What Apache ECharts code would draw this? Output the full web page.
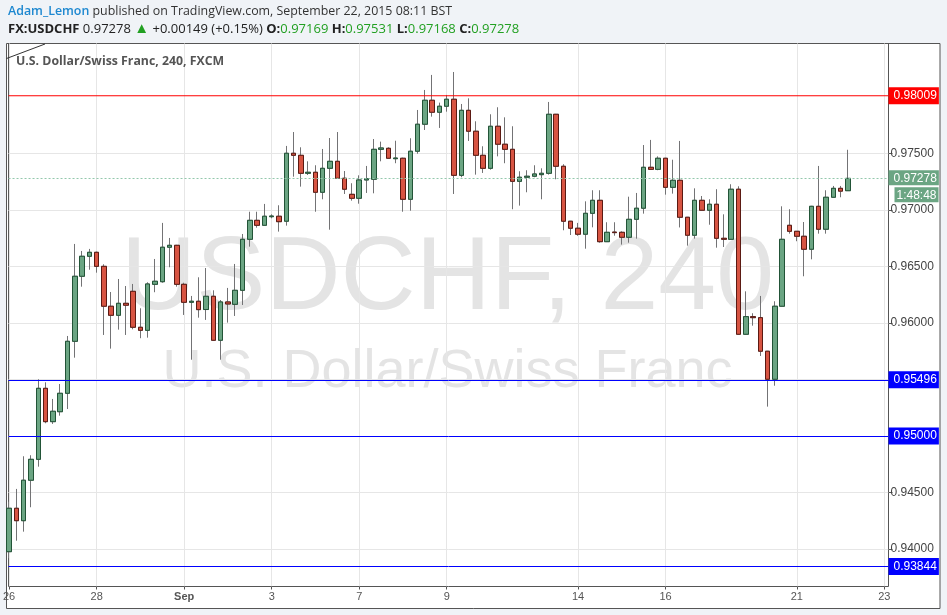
<!DOCTYPE html>
<html><head><meta charset="utf-8">
<script src="https://cdn.jsdelivr.net/npm/echarts@6/dist/echarts.min.js"></script>
<style>html,body{margin:0;padding:0;background:#f0f3f7}#c{width:947px;height:615px}</style>
</head><body><div id="c"></div>
<script>
// ---- data (4H candles, USDCHF) ----
const openP = [0.93976,0.94360,0.94250,0.94608,0.94793,0.95421,0.95126,0.95214,0.95377,0.95837,
0.96412,0.96589,0.96624,0.96500,0.96147,0.96067,0.96173,0.96279,0.95961,0.95934,
0.96341,0.96364,0.96669,0.96686,0.96341,0.96182,0.96191,0.96118,0.96235,0.95846,
0.96185,0.96164,0.96288,0.96739,0.96907,0.96863,0.96939,0.96943,0.96899,0.97500,
0.97482,0.97323,0.97332,0.97155,0.97367,0.97429,0.97279,0.97137,0.97102,0.97264,
0.97270,0.97535,0.97544,0.97452,0.97456,0.97093,0.97518,0.97757,0.97969,0.97863,
0.97916,0.97978,0.97305,0.97880,0.97695,0.97482,0.97367,0.97739,0.97580,0.97535,
0.97252,0.97288,0.97297,0.97311,0.97323,0.97845,0.97385,0.96899,0.96837,0.96784,
0.96969,0.97084,0.96718,0.96803,0.96801,0.96757,0.96916,0.97014,0.97376,0.97358,
0.97456,0.97199,0.97261,0.96934,0.96775,0.97084,0.96996,0.97049,0.96748,0.96739,
0.97182,0.95899,0.96055,0.96046,0.95749,0.95501,0.96147,0.96863,0.96810,0.96766,
0.96651,0.97031,0.96828,0.97111,0.97190,0.97169];
const closeP = [0.94360,0.94250,0.94608,0.94793,0.95421,0.95126,0.95218,0.95377,0.95837,0.96412,
0.96589,0.96624,0.96500,0.96147,0.96067,0.96173,0.96156,0.95961,0.95934,0.96344,
0.96368,0.96669,0.96686,0.96341,0.96182,0.96191,0.96117,0.96235,0.95846,0.96185,
0.96167,0.96288,0.96739,0.96907,0.96863,0.96943,0.96945,0.96895,0.97500,0.97482,
0.97323,0.97332,0.97155,0.97367,0.97429,0.97279,0.97182,0.97102,0.97264,0.97275,
0.97535,0.97547,0.97456,0.97458,0.97093,0.97518,0.97757,0.97969,0.97863,0.97916,
0.97978,0.97305,0.97880,0.97695,0.97482,0.97367,0.97739,0.97580,0.97535,0.97252,
0.97288,0.97297,0.97317,0.97323,0.97845,0.97385,0.96899,0.96837,0.96784,0.96969,
0.97084,0.96718,0.96801,0.96798,0.96757,0.96916,0.97014,0.97376,0.97358,0.97456,
0.97199,0.97261,0.96934,0.96775,0.97084,0.96996,0.97049,0.96748,0.96739,0.97182,
0.95899,0.96055,0.96046,0.95749,0.95501,0.96147,0.96739,0.96810,0.96766,0.96651,
0.97031,0.96828,0.97111,0.97190,0.97165,0.97278];
const lowP = [0.93918,0.94073,0.94153,0.94369,0.94728,0.95112,0.95106,0.95179,0.95238,0.95692,
0.96320,0.96470,0.96444,0.95893,0.95772,0.95940,0.95893,0.95943,0.95864,0.95869,
0.96271,0.96355,0.96492,0.96320,0.96070,0.95674,0.96046,0.96026,0.95840,0.95674,
0.96002,0.96061,0.96158,0.96674,0.96842,0.96860,0.96925,0.96807,0.96860,0.97293,
0.97205,0.97308,0.96983,0.97093,0.96824,0.97275,0.97140,0.97081,0.97054,0.97149,
0.97146,0.97429,0.97453,0.97412,0.96983,0.96992,0.97496,0.97706,0.97824,0.97724,
0.97868,0.97140,0.97288,0.97609,0.97311,0.97326,0.97355,0.97473,0.97412,0.97005,
0.97037,0.97155,0.97288,0.97093,0.97311,0.97270,0.96819,0.96777,0.96770,0.96656,
0.96845,0.96709,0.96715,0.96771,0.96692,0.96709,0.96745,0.96966,0.97355,0.97350,
0.97134,0.97143,0.96844,0.96683,0.96745,0.96993,0.96868,0.96665,0.96671,0.96736,
0.95895,0.95895,0.95975,0.95707,0.95259,0.95444,0.96144,0.96789,0.96722,0.96412,
0.96562,0.96789,0.96789,0.97108,0.97111,0.97168];
const highP = [0.94418,0.94531,0.94820,0.94829,0.95501,0.95474,0.95327,0.95459,0.95884,0.96698,
0.96636,0.96654,0.96630,0.96518,0.96273,0.96388,0.96326,0.96344,0.96129,0.96359,
0.96565,0.96884,0.96751,0.96690,0.96355,0.96238,0.96403,0.96485,0.96288,0.96202,
0.96309,0.96521,0.96786,0.96983,0.96983,0.97052,0.96960,0.97040,0.97565,0.97688,
0.97553,0.97429,0.97394,0.97538,0.97635,0.97688,0.97343,0.97235,0.97305,0.97388,
0.97626,0.97603,0.97553,0.97611,0.97461,0.97633,0.97883,0.98060,0.98193,0.97948,
0.98016,0.98219,0.97936,0.97986,0.97783,0.97562,0.97845,0.97907,0.97818,0.97739,
0.97341,0.97350,0.97394,0.97367,0.97954,0.97848,0.97403,0.96902,0.96884,0.97075,
0.97173,0.97173,0.96890,0.96890,0.96810,0.97116,0.97149,0.97573,0.97618,0.97473,
0.97460,0.97443,0.97609,0.96937,0.97190,0.97122,0.97093,0.97182,0.96960,0.97226,
0.97208,0.96279,0.96085,0.96238,0.95752,0.96191,0.97031,0.97005,0.96812,0.96892,
0.97035,0.97388,0.97173,0.97211,0.97211,0.97531];

// x-axis day labels (candle slot index -> label), 6 slots per trading day
const tickIdx  = [0,12,24,36,48,60,78,90,108,120];
const tickText = ['26','28','Sep','3','7','9','14','16','21','23'];
// slot range shown on the time axis
const xMin = -0.08, xMax = 120.57;
// price axis labels / grid levels (0.98000 sits under the red level box)
const priceTicks = [0.940,0.945,0.950,0.955,0.960,0.965,0.970,0.975];
// horizontal levels
const resistanceLevels = [0.98009];
const supportLevels = [0.95496,0.95000,0.93844];
const lastPrice = 0.97278;
const countdown = '1:48:48';

const FONT = 'Liberation Sans';
const UIFONT = 'Open Sans';

const wickData = openP.map((o,i)=>[i,o,closeP[i],lowP[i],highP[i]]);
const bodyData = openP.map((o,i)=>[i,o,closeP[i],Math.min(o,closeP[i]),Math.max(o,closeP[i])]);

function levelMarkLine(vals, color, lineColor){
  return {symbol:['none','none'],silent:true,animation:false,precision:5,
    lineStyle:{color:lineColor,width:1,type:'solid'},
    emphasis:{disabled:true},
    label:{show:true,position:'end',distance:0,color:'#fff',backgroundColor:color,opacity:1,
      padding:[2,2,1,5],fontSize:12,fontFamily:FONT,lineHeight:14,
      formatter:function(p){return Number(p.value).toFixed(5);}},
    data:vals.map(v=>({yAxis:v}))};
}

const chart = echarts.init(document.getElementById('c'));
chart.setOption({
  backgroundColor:'#f0f3f7',
  animation:false,
  grid:{left:6.5,top:43.5,right:58.5,bottom:28.5,show:true,borderColor:'#555',borderWidth:1,backgroundColor:'transparent'},
  xAxis:{
    type:'value',min:xMin,max:xMax,
    axisLine:{show:false,onZero:false},
    axisTick:{show:true,length:3,customValues:tickIdx,lineStyle:{color:'#555'}},
    axisLabel:{customValues:tickIdx,color:'#555',fontSize:11,fontFamily:FONT,margin:5,
      formatter:function(v){const k=tickIdx.indexOf(Math.round(v));const t=tickText[k]||'';return t==='Sep'?'{b|Sep}':t;},
      rich:{b:{fontWeight:'bold',color:'#555',fontSize:11,fontFamily:FONT}}},
    splitLine:{show:true,lineStyle:{color:'#e6e6e6',width:1}}
  },
  yAxis:{
    type:'value',position:'right',min:0.93668,max:0.98471,splitNumber:10,
    axisLine:{show:false,onZero:false},
    axisTick:{show:true,length:4,customValues:priceTicks,lineStyle:{color:'#555'}},
    axisLabel:{customValues:priceTicks,color:'#444',fontSize:12,fontFamily:FONT,margin:2,
      formatter:function(v){return v.toFixed(5);}},
    splitLine:{show:true,lineStyle:{color:'#e6e6e6',width:1}}
  },
  graphic:[
    {type:'rect',z:-10,shape:{x:6.5,y:43.5,width:933.5,height:565},style:{fill:'#ffffff',stroke:'#555',lineWidth:1}},
    {type:'text',z:-5,x:447.5,y:280,style:{text:'USDCHF, 240',font:'104px "'+FONT+'"',fill:'#e4e4e4',align:'center',verticalAlign:'middle'}},
    {type:'text',z:-5,x:447.5,y:372,style:{text:'U.S. Dollar/Swiss Franc',font:'54px "'+FONT+'"',fill:'#e4e4e4',align:'center',verticalAlign:'middle'}},
    {type:'text',z:10,x:16,y:61,style:{text:'U.S. Dollar/Swiss Franc, 240, FXCM',font:'bold 12.3px "'+UIFONT+'"',fill:'#555',verticalAlign:'middle'}},
    {type:'line',z:10,shape:{x1:6.5,y1:58.5,x2:45,y2:44},style:{stroke:'#333',lineWidth:1}},
    {type:'text',z:10,x:8,y:11,style:{
      text:'{u|Adam_Lemon}{t| published on TradingView.com, September 22, 2015 08:11 BST}',
      verticalAlign:'middle',
      rich:{u:{fill:'#1e88d0',font:'600 12.4px "'+UIFONT+'"'},t:{fill:'#333',font:'12.4px "'+UIFONT+'"'}}}},
    {type:'text',z:10,x:8,y:29,style:{
      text:'{b|FX:USDCHF}{t| 0.97278 }{g|▲}{t| +0.00149 (+0.15%) }{b|O:}{v|0.97169}{b| H:}{v|0.97531}{b| L:}{v|0.97168}{b| C:}{v|0.97278}',
      verticalAlign:'middle',
      rich:{b:{fill:'#222',font:'bold 13px "'+UIFONT+'"'},t:{fill:'#222',font:'13px "'+UIFONT+'"'},
            g:{fill:'#22a022',font:'15px "'+UIFONT+'"'},v:{fill:'#22a022',font:'13px "'+UIFONT+'"'}}}}
  ],
  series:[
    {type:'candlestick',name:'wick',data:wickData,encode:{x:0,y:[1,2,3,4]},barWidth:5,silent:true,z:3,
      itemStyle:{color:'transparent',color0:'transparent',borderColor:'#737375',borderColor0:'#737375',borderWidth:1}},
    {type:'candlestick',name:'body',data:bodyData,encode:{x:0,y:[1,2,3,4]},barWidth:5,silent:true,z:4,
      itemStyle:{color:'#6ba583',color0:'#d75442',borderColor:'#225437',borderColor0:'#5b1a13',borderWidth:1}},
    {type:'line',name:'support',data:[],silent:true,z:6,symbol:'none',color:'#0000ff',
      markLine:levelMarkLine(supportLevels,'#0000ff','#0000ff')},
    {type:'line',name:'resistanceLabel',data:[],silent:true,z:6,symbol:'none',color:'#ff0000',
      markLine:levelMarkLine(resistanceLevels,'#ff0000','rgba(255,0,0,0)')},
    {type:'line',name:'resistance',data:[[xMin,resistanceLevels[0]],[xMax,resistanceLevels[0]]],
      silent:true,z:7,symbol:'none',showSymbol:false,color:'#ff0000',animation:false,
      lineStyle:{color:'#ff0000',width:1.2,type:'solid'}},
    {type:'line',name:'last',data:[],silent:true,z:5,symbol:'none',color:'#93c8ac',
      markLine:{symbol:['none','none'],silent:true,animation:false,precision:5,
        lineStyle:{color:'#93c8ac',width:1,type:[2,2]},
        label:{show:true,position:'end',distance:0,offset:[0,8],
          formatter:'{a|'+lastPrice.toFixed(5)+'}\n{s|}{b|'+countdown+'}',
          rich:{
            a:{color:'#fff',backgroundColor:'#6ba583',padding:[2,2,1,5],fontSize:12,fontFamily:FONT,lineHeight:17},
            s:{width:6,height:10},
            b:{color:'#fff',backgroundColor:'#6ba583',padding:[2,2,1,2],fontSize:12,fontFamily:FONT,lineHeight:17}
          }},
        data:[{yAxis:lastPrice}]}}
  ]
});
</script></body></html>
